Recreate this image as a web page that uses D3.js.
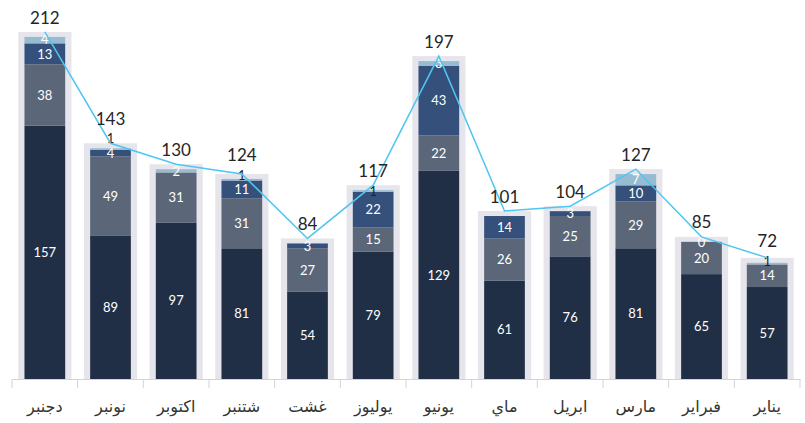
<!DOCTYPE html>
<html><head><meta charset="utf-8">
<script src="https://cdn.jsdelivr.net/npm/d3@7"></script>
<style>body{margin:0;background:#fff}svg{display:block}</style>
</head><body>
<svg id="c" width="805" height="423"></svg>
<script>
// months in chronological order (displayed right-to-left)
const months = ["يناير","فبراير","مارس","ابريل","ماي","يونيو","يوليوز","غشت","شتنبر","اكتوبر","نونبر","دجنبر"];
// stacked series, bottom to top (null = no segment / no label)
const series1 = [57, 65, 81, 76, 61, 129, 79, 54, 81, 97, 89, 157];
const series2 = [14, 20, 29, 25, 26, 22, 15, 27, 31, 31, 49, 38];
const series3 = [null, 0, 10, 3, 14, 43, 22, 3, 11, null, 4, 13];
const series4 = [1, null, 7, null, null, 3, 1, null, 1, 2, 1, 4];
const totals  = [72, 85, 127, 104, 101, 197, 117, 84, 124, 130, 143, 212];

const colors = ["#212f46", "#5b6779", "#35507a", "#97bbd0"];
const allSeries = [series1, series2, series3, series4];

const svg = d3.select("#c");
const baseY = 379;
const x = d3.scaleBand().domain(months).range([800, 12]).paddingInner(0).paddingOuter(0);
const y = d3.scaleLinear().domain([0, 220]).range([baseY, baseY - 355]);
const bw = x.bandwidth();
const bgW = bw * 0.81, stW = bw * 0.62;
const pad = 5;
const fs = 13, gap = 14.5;

// background bars
svg.append("g").selectAll("rect").data(months).join("rect")
  .attr("x", d => x(d) + (bw - bgW) / 2)
  .attr("width", bgW)
  .attr("y", (d, i) => y(totals[i]) - pad)
  .attr("height", (d, i) => baseY - y(totals[i]) + pad)
  .attr("fill", "#e6e5eb");

// stacked segments
const segs = [];
const topLabel = [];
months.forEach((m, i) => {
  let acc = 0, prevLy = Infinity;
  allSeries.forEach((s, k) => {
    const v = s[i];
    if (v === null) return;
    const seg = {m, k, v, y0: acc, y1: acc + v};
    const mid = (y(seg.y0) + y(seg.y1)) / 2;
    seg.ly = Math.min(mid, prevLy - gap);
    prevLy = seg.ly;
    segs.push(seg);
    acc += v;
  });
  topLabel[i] = prevLy;
});
svg.append("g").selectAll("rect").data(segs).join("rect")
  .attr("x", d => x(d.m) + (bw - stW) / 2)
  .attr("width", stW)
  .attr("y", d => y(d.y1))
  .attr("height", d => y(d.y0) - y(d.y1))
  .attr("fill", d => colors[d.k]);

svg.append("g").selectAll("text").data(segs).join("text")
  .attr("x", d => x(d.m) + bw / 2)
  .attr("y", d => d.ly)
  .attr("dy", "0.36em")
  .attr("text-anchor", "middle")
  .attr("font-family", "Lato, 'Open Sans', sans-serif")
  .attr("font-size", fs)
  .attr("fill", d => d.v < 2 && d.v > 0 ? "#222" : "#fff")
  .text(d => d.v);

// line through totals
const line = d3.line()
  .x(d => x(d) + bw / 2)
  .y((d, i) => y(totals[i]) - pad);
svg.append("path").datum(months)
  .attr("d", line)
  .attr("fill", "none")
  .attr("stroke", "#4fc6f2")
  .attr("stroke-width", 1.5);

// total labels
svg.append("g").selectAll("text").data(months).join("text")
  .attr("x", d => x(d) + bw / 2)
  .attr("y", (d, i) => Math.min(y(totals[i]) - pad - 8, topLabel[i] - 14))
  .attr("text-anchor", "middle")
  .attr("font-family", "Lato, 'Open Sans', sans-serif")
  .attr("font-size", 17)
  .attr("fill", "#252525")
  .text((d, i) => totals[i]);

// axis
const ax = svg.append("g").attr("transform", `translate(0,${baseY})`)
  .call(d3.axisBottom(x).tickSize(0).tickPadding(22));
ax.select(".domain").attr("stroke", "#d4d4d4");
ax.selectAll("text")
  .attr("font-family", "'DejaVu Sans', 'Noto Sans', sans-serif")
  .attr("font-size", 16)
  .attr("fill", "#333");
const bounds = months.map(m => x(m)).concat([x(months[0]) + bw]);
ax.selectAll(".bound").data(bounds).join("line")
  .attr("class", "bound")
  .attr("x1", d => d).attr("x2", d => d)
  .attr("y1", 0).attr("y2", 9)
  .attr("stroke", "#d4d4d4");
</script>
</body></html>
